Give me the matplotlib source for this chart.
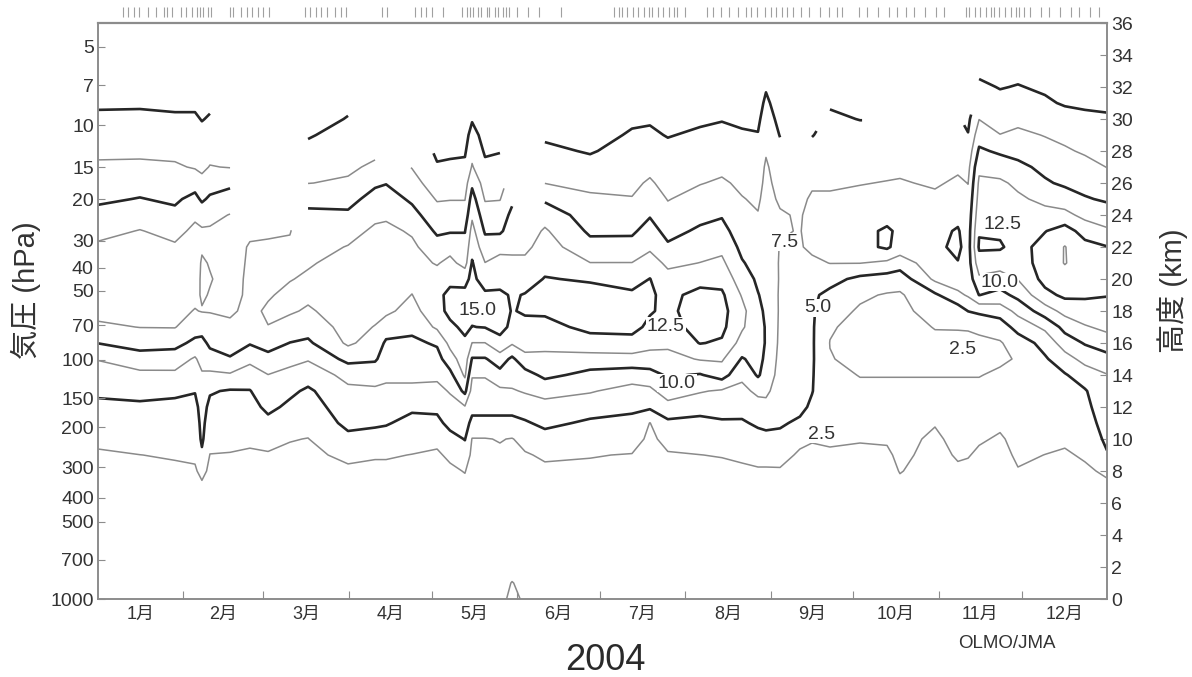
import numpy as np
import matplotlib
matplotlib.use("Agg")
import matplotlib.pyplot as plt
from matplotlib.transforms import blended_transform_factory

plt.rcParams['font.family'] = ['Liberation Sans', 'Noto Sans CJK JP']

nan = np.nan

# ozone partial pressure (mPa), one profile per sounding column
heights_km = [0, 1, 2, 4, 6, 7, 8, 9, 10, 11, 12, 13, 14, 15, 16, 17, 18, 19, 20, 21,
              22, 23, 24, 25, 26, 27, 28, 29, 30, 31, 32, 33, 34, 35, 36]

sonde_days = [0, 15.2, 27.9, 35.2, 37.7, 40.6, 47.9, 55.1, 61.7, 69.6, 76.2, 90.7,
              100.5, 104.5, 113.9, 123.0, 127.7, 133.1, 135.7, 140.4, 145.8, 150.2,
              154.9, 162.1, 178.5, 193.7, 200.2, 206.7, 218.4, 226.3, 233.6, 239.4,
              242.3, 247.4, 254.6, 259.0, 265.5, 276.4, 286.2, 290.9, 303.6, 311.9,
              315.6, 319.6, 327.2, 333.7, 343.5, 350.7, 358.0, 366.0]

p000 = [1.2, 1.1, 1.0, 0.9, 1.0,
        1.3, 1.5, 2.2, 3.0, 3.6, 4.5, 5.4, 6.5, 7.6, 10.05,
        12.1, 13.2, 13.4, 13.5, 13.4, 12.9, 11.8, 10.7, 9.6, 8.7,
        7.9, 7.0, 6.2, 5.4, 4.7, 4.2, 3.8, 3.4, 3.1, 2.8]
p015 = [1.2, 1.1, 1.0, 0.9, 1.0,
        1.4, 1.9, 2.48, 3.5, 4.0, 4.6, 5.7, 6.9, 8.9, 11.0,
        12.55, 13.2, 13.5, 13.6, 13.5, 13.2, 12.6, 11.4, 10.1, 9.1,
        7.9, 7.1, 6.3, 5.5, 4.7, 4.2, 3.8, 3.4, 3.1, 2.8]
p028 = [1.2, 1.1, 1.0, 0.9, 1.0,
        1.6, 2.1, 2.7, 3.3, 3.9, 4.5, 5.4, 7.0, 8.7, 10.8,
        12.6, 13.1, 13.3, 13.4, 13.2, 12.8, 11.8, 10.6, 9.6, 8.7,
        7.8, 6.9, 6.1, 5.3, 4.6, 4.1, 3.7, 3.4, 3.1, 2.8]
p035 = [1.2, 1.1, 1.0, 0.9, 1.0,
        1.7, 2.2, 2.9, 3.4, 3.9, 4.4, 5.1, 6.2, 7.2, 9.4,
        11.2, 12.4, 13.0, 13.3, 13.4, 13.3, 13.0, 12.1, 10.7, 9.0,
        7.3, 6.7, 6.0, 5.3, 4.6, 4.1, 3.7, 3.4, 3.1, 2.8]
p038 = [1.2, 1.1, 1.0, 0.9, 1.0,
        2.0, 3.2, 4.6, 5.4, 5.6, 5.8, 6.4, 7.2, 8.4, 9.3,
        11.0, 12.6, 12.3, 12.2, 12.3, 12.7, 12.8, 11.5, 9.6, 8.2,
        7.0, 6.3, 5.6, 4.9, 4.4, 4.0, 3.7, 3.4, 3.1, 2.8]
p041 = [1.2, 1.1, 1.0, 0.9, 1.0,
        1.6, 2.0, 2.45, 3.2, 3.9, 4.5, 5.2, 7.0, 9.0, 10.5,
        11.7, 12.6, 12.6, 12.4, 12.6, 13.0, 12.8, 11.8, 10.4, 8.9,
        7.6, 6.8, 6.1, 5.2, 4.6, 4.1, 3.7, 3.4, 3.1, 2.8]
p048 = [1.2, 1.1, 1.0, 0.9, 1.0,
        1.6, 2.0, 2.4, 3.0, 3.5, 4.0, 4.8, 7.2, 9.8, 11.0,
        12.1, 12.8, 13.0, 13.1, 13.1, 13.0, 12.9, 12.6, 11.0, 9.5,
        7.4, nan, nan, nan, nan, nan, nan, nan, nan, nan]
p055 = [1.2, 1.1, 1.0, 0.9, 1.0,
        1.5, 1.9, 2.2, 2.9, 3.5, 4.1, 4.9, 6.3, 8.1, 10.2,
        11.4, 12.0, 12.2, 12.2, 12.3, 12.4, 12.7, nan, nan, nan,
        nan, nan, nan, nan, nan, nan, nan, nan, nan, nan]
p062 = [1.2, 1.1, 1.0, 0.9, 1.0,
        1.5, 1.9, 2.3, 3.2, 4.3, 5.6, 6.5, 7.45, 9.2, 11.0,
        12.45, 12.8, 12.3, 12.1, 12.1, 12.3, 12.7, nan, nan, nan,
        nan, nan, nan, nan, nan, nan, nan, nan, nan, nan]
p070 = [1.2, 1.1, 1.0, 0.9, 1.0,
        1.4, 1.7, 2.1, 2.6, 3.6, 4.5, 5.5, 6.8, 8.2, 9.95,
        11.5, 12.8, 13.0, 12.4, 12.1, 12.2, 12.6, nan, nan, nan,
        nan, nan, nan, nan, nan, nan, nan, nan, nan, nan]
p076 = [1.2, 1.1, 1.0, 0.9, 1.0,
        1.3, 1.6, 2.0, 2.45, 3.2, 3.9, 4.6, 6.1, 7.7, 9.6,
        11.0, 12.2, 13.0, 12.8, 12.3, 11.7, 11.1, 10.5, 9.3, 7.45,
        6.5, 5.6, 4.8, 4.2, 3.8, nan, nan, nan, nan, nan]
p091 = [1.2, 1.1, 1.0, 0.9, 1.0,
        1.5, 2.1, 3.0, 4.4, 5.6, 6.3, 7.0, 8.2, 10.7, 12.9,
        13.4, 13.7, 13.8, 13.6, 13.2, 12.6, 11.7, 10.4, 9.2, 7.8,
        7.1, 6.5, 5.8, 5.1, 4.6, nan, nan, nan, nan, nan]
p100 = [1.2, 1.1, 1.0, 0.9, 1.0,
        1.5, 2.0, 2.7, 4.0, 5.4, 6.3, 7.1, 8.5, 10.3, 11.5,
        12.4, 13.2, 13.6, 13.8, 13.7, 13.4, 12.9, 12.0, 10.9, 9.6,
        7.9, 7.0, nan, nan, nan, nan, nan, nan, nan, nan]
p104 = [1.2, 1.1, 1.0, 0.9, 1.0,
        1.5, 2.0, 2.7, 4.0, 5.2, 6.0, 7.0, 8.0, 8.9, 9.6,
        11.3, 13.0, 13.7, 14.0, 13.9, 13.6, 13.1, 12.1, 11.1, 9.9,
        nan, nan, nan, nan, nan, nan, nan, nan, nan, nan]
p114 = [1.2, 1.1, 1.0, 0.9, 1.0,
        1.6, 2.1, 2.45, 3.4, 4.3, 5.4, 7.0, 8.0, 8.8, 9.5,
        10.6, 11.6, 12.45, 13.2, 13.4, 13.0, 12.2, 10.8, 9.6, 8.4,
        7.4, nan, nan, nan, nan, nan, nan, nan, nan, nan]
p123 = [1.2, 1.1, 1.0, 0.9, 1.0,
        1.5, 1.9, 2.2, 3.0, 4.3, 5.6, 6.8, 8.0, 9.1, 10.3,
        12.9, 14.2, 14.5, 13.6, 12.3, 11.0, 9.6, 8.5, 7.3, 6.2,
        5.2, 4.6, nan, nan, nan, nan, nan, nan, nan, nan]
p128 = [1.2, 1.1, 1.0, 0.9, 1.0,
        1.6, 2.1, 2.9, 4.1, 5.8, 6.6, 7.7, 9.3, 11.4, 13.2,
        14.5, 15.6, 15.5, 14.5, 13.2, 11.6, 9.8, 8.6, 7.4, 6.4,
        5.4, 4.6, nan, nan, nan, nan, nan, nan, nan, nan]
p133 = [1.2, 1.1, 1.0, 0.9, 1.0,
        1.9, 2.6, 3.8, 5.1, 6.1, 7.3, 10.6, 12.9, 13.9, 14.6,
        15.5, 15.8, 15.6, 14.3, 11.6, 10.8, 9.9, 8.6, 7.4, 6.4,
        5.5, 4.7, 4.2, 3.9, nan, nan, nan, nan, nan, nan]
p136 = [1.2, 1.1, 1.0, 0.9, 1.0,
        1.3, 1.6, 2.0, 2.4, 4.3, 5.8, 6.6, 7.7, 9.8, 12.45,
        14.95, 15.6, 15.8, 15.6, 15.2, 14.2, 13.3, 12.1, 11.0, 9.5,
        7.7, 6.8, 5.8, 4.8, 4.3, nan, nan, nan, nan, nan]
p140 = [1.2, 1.1, 1.0, 0.9, 1.0,
        1.3, 1.6, 2.0, 2.4, 4.3, 5.8, 6.6, 7.7, 9.8, 12.45,
        15.1, 15.6, 15.4, 13.9, 12.55, 11.1, 9.7, 8.6, 7.3, 6.4,
        5.5, 4.7, 4.2, 3.9, nan, nan, nan, nan, nan, nan]
p146 = [1.9, 1.6, 1.2, 0.9, 1.0,
        1.4, 1.7, 2.2, 2.6, 4.3, 5.8, 7.0, 9.2, 11.2, 14.4,
        15.6, 15.8, 15.4, 14.2, 13.3, 11.8, 9.6, 8.6, 7.4, 6.5,
        5.7, 4.9, nan, nan, nan, nan, nan, nan, nan, nan]
p150 = [3.0, 2.6, 1.5, 1.0, 1.0,
        1.3, 1.6, 2.0, 2.4, 4.3, 5.8, 7.3, 8.5, 9.5, 12.8,
        14.6, 14.9, 14.8, 14.0, 13.0, 12.0, 11.2, 10.6, 9.5, nan,
        nan, nan, nan, nan, nan, nan, nan, nan, nan, nan]
p155 = [2.2, 1.8, 1.3, 1.0, 1.0,
        1.5, 1.9, 2.3, 3.2, 4.7, 6.3, 7.7, 9.0, 11.7, 13.6,
        14.5, 15.2, 15.1, 14.2, 13.1, 11.9, 11.2, nan, nan, nan,
        nan, nan, nan, nan, nan, nan, nan, nan, nan, nan]
p162 = [1.2, 1.1, 1.0, 0.9, 1.0,
        1.6, 2.1, 2.8, 4.0, 5.6, 6.8, 8.2, 10.6, 11.8, 13.3,
        14.4, 15.3, 15.5, 15.1, 14.4, 13.6, 12.8, 11.5, 9.6, 7.45,
        6.6, 5.5, 4.6, 4.1, nan, nan, nan, nan, nan, nan]
p178 = [1.2, 1.1, 1.0, 0.9, 1.0,
        1.6, 2.1, 2.6, 3.8, 4.6, 6.1, 7.7, 9.3, 11.4, 14.2,
        15.5, 15.9, 15.7, 14.8, 12.55, 10.8, 9.6, 8.8, 7.9, 6.9,
        5.8, 4.8, 4.3, 3.9, 3.6, nan, nan, nan, nan, nan]
p194 = [1.2, 1.1, 1.0, 0.9, 1.0,
        1.5, 2.0, 2.4, 3.5, 4.3, 5.5, 6.6, 8.7, 11.6, 14.2,
        15.7, 15.9, 15.4, 14.1, 12.55, 10.9, 9.6, 8.7, 7.6, 7.0,
        6.5, 5.9, 5.2, 4.7, nan, nan, nan, nan, nan, nan]
p200 = [1.2, 1.1, 1.0, 0.9, 1.0,
        1.2, 1.4, 1.7, 2.0, 2.45, 5.4, 6.9, 9.1, 11.5, 13.3,
        14.5, 15.2, 15.3, 15.05, 13.8, 12.0, 11.0, 9.8, 8.8, 7.8,
        6.9, 6.0, 5.3, 4.8, nan, nan, nan, nan, nan, nan]
p207 = [1.2, 1.1, 1.0, 0.9, 1.0,
        1.5, 1.9, 2.3, 3.2, 4.5, 6.6, 8.8, 10.3, 11.6, 13.1,
        14.0, 14.5, 14.4, 13.5, 11.9, 10.4, 9.2, 8.2, 7.4, 6.7,
        6.1, 5.5, 4.9, 4.5, nan, nan, nan, nan, nan, nan]
p218 = [1.2, 1.1, 1.0, 0.9, 1.0,
        1.5, 2.0, 2.48, 3.4, 4.3, 5.9, 7.7, 9.8, 12.7, 15.1,
        16.0, 16.1, 15.7, 14.2, 12.55, 11.3, 10.4, 9.3, 8.3, 7.4,
        6.7, 6.0, 5.3, 4.7, 4.3, nan, nan, nan, nan, nan]
p226 = [1.2, 1.1, 1.0, 0.9, 1.0,
        1.5, 2.0, 2.6, 3.5, 4.7, 6.0, 7.2, 11.1, 12.8, 14.7,
        15.6, 15.8, 15.4, 14.2, 13.0, 11.9, 10.8, 9.8, 8.8, 7.8,
        7.0, 6.3, 5.5, 4.9, 4.4, nan, nan, nan, nan, nan]
p234 = [1.2, 1.1, 1.0, 0.9, 1.0,
        1.6, 2.2, 2.8, 3.8, 4.7, 5.9, 6.9, 8.0, 9.8, 11.6,
        12.8, 13.2, 12.3, 11.2, 10.2, 9.4, 8.7, 8.1, 7.6, 7.1,
        6.6, 6.0, 5.2, 4.7, 4.3, nan, nan, nan, nan, nan]
p239 = [1.2, 1.1, 1.0, 0.9, 1.0,
        1.7, 2.3, 3.1, 4.1, 5.4, 6.6, 8.0, 10.3, 10.8, 11.1,
        11.0, 10.6, 10.1, 9.6, 9.1, 8.6, 8.1, 7.6, 7.2, 6.8,
        6.4, 5.8, 5.1, 4.6, 4.2, 3.8, nan, nan, nan, nan]
p242 = [1.2, 1.1, 1.0, 0.9, 1.0,
        1.7, 2.3, 3.1, 4.3, 5.6, 6.8, 8.0, 9.0, 9.5, 9.8,
        9.8, 9.6, 9.4, 9.2, 9.0, 8.8, 8.6, 8.4, 8.2, 8.0,
        7.8, 7.3, 6.7, 6.0, 5.4, 4.8, 4.3, nan, nan, nan]
p247 = [1.2, 1.1, 1.0, 0.9, 1.0,
        1.7, 2.3, 3.2, 4.4, 5.3, 5.8, 6.3, 6.6, 6.8, 7.0,
        7.1, 7.2, 7.2, 7.3, 7.3, 7.4, 7.7, 7.7, 7.2, 6.8,
        6.3, 5.6, 4.9, 4.4, 4.0, 3.7, nan, nan, nan, nan]
p255 = [1.2, 1.1, 1.0, 0.9, 1.0,
        1.4, 1.8, 2.2, 3.0, 4.6, 5.6, 6.0, 6.3, 6.5, 6.6,
        6.6, 6.7, 6.8, 6.9, 7.0, 7.3, 7.4, 7.3, 7.0, nan,
        nan, nan, nan, nan, nan, nan, nan, nan, nan, nan]
p259 = [1.2, 1.1, 1.0, 0.9, 1.0,
        1.4, 1.8, 2.2, 2.6, 3.6, 4.6, 5.1, 5.2, 5.3, 5.3,
        5.3, 5.3, 5.4, 5.6, 7.0, 8.0, 8.3, 8.2, 7.8, 7.2,
        6.5, 5.7, 4.9, nan, nan, nan, nan, nan, nan, nan]
p266 = [1.2, 1.1, 1.0, 0.9, 1.0,
        1.3, 1.7, 2.2, 2.8, 3.2, 3.3, 3.1, 2.9, 2.6, 2.45,
        2.7, 3.5, 4.4, 5.8, 7.55, 8.3, 8.5, 8.3, 7.8, 7.2,
        6.7, 6.3, 5.8, 5.3, 4.8, nan, nan, nan, nan, nan]
p276 = [1.2, 1.1, 1.0, 0.9, 1.0,
        1.3, 1.7, 2.2, 2.6, 3.0, 3.1, 2.8, 2.45, 2.0, 1.8,
        1.9, 2.2, 2.9, 4.4, 7.55, 9.2, 9.4, 8.8, 8.1, 7.4,
        6.8, 6.2, 5.6, 4.95, 4.5, nan, nan, nan, nan, nan]
p286 = [1.2, 1.1, 1.0, 0.9, 1.0,
        1.3, 1.7, 2.2, 2.7, 3.0, 3.0, 2.8, 2.45, 2.0, 1.7,
        1.7, 1.9, 2.3, 3.9, 7.0, 10.4, 10.3, 9.3, 8.4, 7.6,
        6.9, 6.2, 5.6, nan, nan, nan, nan, nan, nan, nan]
p291 = [1.2, 1.1, 1.0, 0.9, 1.0,
        2.0, 2.6, 2.9, 3.0, 3.1, 3.0, 2.8, 2.45, 2.0, 1.7,
        1.6, 1.8, 2.2, 3.6, 6.2, 8.9, 9.6, 9.3, 8.6, 7.7,
        7.0, 6.3, 5.6, nan, nan, nan, nan, nan, nan, nan]
p304 = [1.2, 1.1, 1.0, 0.9, 1.0,
        1.3, 1.6, 1.9, 2.2, 2.6, 2.9, 2.8, 2.45, 2.2, 2.0,
        2.6, 3.6, 4.6, 8.0, 9.0, 9.5, 9.4, 8.8, 8.0, 7.2,
        6.6, 6.0, 5.4, nan, nan, nan, nan, nan, nan, nan]
p312 = [1.2, 1.1, 1.0, 0.9, 1.0,
        1.9, 2.2, 2.7, 3.0, 3.1, 3.0, 2.8, 2.45, 2.2, 2.1,
        2.6, 3.7, 6.9, 9.0, 9.9, 10.5, 10.2, 9.4, 8.6, 7.9,
        7.1, 6.4, 5.8, nan, nan, nan, nan, nan, nan, nan]
p316 = [1.2, 1.1, 1.0, 0.9, 1.0,
        1.7, 2.1, 2.6, 3.0, 3.1, 3.0, 2.8, 2.45, 2.3, 2.2,
        2.6, 5.05, 7.8, 8.6, 8.9, 9.0, 8.9, 8.6, 8.1, 7.45,
        6.8, 6.0, 5.1, 4.5, nan, nan, nan, nan, nan, nan]
p320 = [1.2, 1.1, 1.0, 0.9, 1.0,
        1.4, 1.8, 2.2, 2.7, 3.0, 3.0, 2.8, 2.45, 2.2, 2.1,
        2.9, 5.5, 10.05, 12.0, 14.0, 15.3, 14.8, 14.0, 13.4, 12.9,
        12.0, 10.4, 8.9, 7.45, 6.3, 5.4, 4.6, 4.1, nan, nan]
p327 = [1.2, 1.1, 1.0, 0.9, 1.0,
        1.3, 1.6, 1.9, 2.3, 2.8, 3.0, 2.9, 2.7, 2.3, 2.3,
        3.6, 6.2, 9.2, 11.4, 13.6, 15.3, 14.6, 14.0, 13.5, 12.9,
        11.4, 9.6, 7.55, 6.6, 5.6, 4.9, 4.4, 4.0, nan, nan]
p334 = [1.2, 1.1, 1.0, 0.9, 1.0,
        1.9, 2.4, 2.8, 3.0, 3.1, 3.1, 3.0, 2.8, 2.6, 3.6,
        6.0, 8.2, 10.7, 12.6, 13.6, 14.0, 13.9, 13.5, 12.9, 12.0,
        10.6, 9.2, 8.0, 6.9, 5.9, 5.1, 4.5, 4.1, 3.8, nan]
p343 = [1.2, 1.1, 1.0, 0.9, 1.0,
        1.7, 2.1, 2.48, 3.0, 3.3, 3.6, 3.9, 4.3, 4.7, 5.9,
        8.0, 11.3, 14.3, 15.8, 16.2, 16.0, 14.9, 13.3, 11.9, 10.3,
        9.4, 8.3, 7.4, 6.5, 5.3, 4.7, 4.3, 3.9, 3.6, 3.4]
p351 = [1.2, 1.1, 1.0, 0.9, 1.0,
        1.5, 1.9, 2.2, 2.9, 3.4, 3.9, 4.4, 4.8, 6.5, 8.7,
        10.8, 13.3, 15.5, 16.6, 17.6, 17.6, 16.1, 13.2, 11.2, 9.6,
        8.7, 7.8, 6.9, 5.8, 4.8, 4.3, 3.9, 3.6, 3.4, 3.2]
p358 = [1.2, 1.1, 1.0, 0.9, 1.0,
        1.7, 2.1, 2.8, 3.3, 3.9, 4.4, 4.8, 6.2, 8.3, 10.2,
        12.3, 13.8, 15.4, 16.2, 16.5, 15.8, 14.0, 11.8, 10.2, 9.2,
        8.3, 7.2, 6.3, 5.4, 4.7, 4.2, 3.9, 3.6, 3.4, 3.2]
p366 = [1.2, 1.1, 1.0, 0.9, 1.0,
        2.0, 2.9, 4.8, 5.5, 6.0, 6.4, 6.8, 7.4, 9.0, 11.5,
        13.0, 14.1, 15.1, 15.7, 15.8, 15.1, 12.9, 11.1, 9.7, 8.4,
        7.45, 6.7, 5.8, 5.2, 4.7, 4.3, 4.0, 3.7, 3.4, 3.2]

profiles = [p000, p015, p028, p035, p038, p041, p048, p055, p062, p070, p076, p091,
            p100, p104, p114, p123, p128, p133, p136, p140, p146, p150, p155, p162,
            p178, p194, p200, p207, p218, p226, p234, p239, p242, p247, p255, p259,
            p266, p276, p286, p291, p304, p312, p316, p320, p327, p334, p343, p351,
            p358, p366]

# sounding dates marked along the top (day of year)
obs_days = [9, 11, 13, 15, 18, 21, 24, 25, 27, 30, 32, 34, 36, 37, 38, 40, 41, 48, 49,
            52, 54, 56, 58, 60, 62, 75, 77, 79, 81, 83, 86, 88, 90, 103, 105, 115, 117,
            119, 121, 125, 132, 134, 135, 136, 138, 139, 141, 142, 144, 145, 147, 148,
            149, 152, 156, 160, 168, 187, 189, 190, 192, 194, 196, 198, 200, 201, 203,
            205, 207, 209, 210, 213, 221, 223, 226, 229, 232, 235, 237, 239, 242, 244,
            246, 248, 250, 252, 255, 258, 262, 265, 268, 270, 276, 279, 283, 287, 290,
            293, 296, 300, 304, 307, 315, 316, 318, 320, 322, 324, 325, 327, 329, 331,
            333, 334, 336, 338, 342, 345, 349, 353, 356, 360, 363]

month_edges = [0, 31, 60, 91, 121, 152, 182, 213, 244, 274, 305, 335, 366]
month_labels = ['1月', '2月', '3月', '4月', '5月', '6月', '7月', '8月', '9月',
                '10月', '11月', '12月']

pressure_labels = ['5', '7', '10', '15', '20', '30', '40', '50', '70', '100', '150',
                   '200', '300', '400', '500', '700', '1000']
pressure_km = [34.52, 32.12, 29.62, 27.0, 25.0, 22.39, 20.69, 19.27, 17.12, 14.94,
               12.56, 10.75, 8.25, 6.33, 4.83, 2.44, 0.0]

label_text = ['15.0', '12.5', '10.0', '7.5', '5.0', '2.5', '2.5', '12.5', '10.0']
label_day = [137.5, 206.0, 210.0, 249.0, 261.0, 262.6, 313.7, 328.0, 327.0]
label_km = [18.06, 17.06, 13.5, 22.3, 18.2, 10.3, 15.6, 23.4, 19.8]

days = np.array(sonde_days)
h = np.array(heights_km)
ozone = np.ma.masked_invalid(np.array(profiles, dtype=float).T)

txt = '#333333'
grey = '#8c8c8c'

fig = plt.figure(figsize=(11.92, 6.77), dpi=100)
ax = fig.add_axes([0.0822, 0.1152, 0.8465, 0.8508])
axp = ax.twinx()   # carries the pressure scale on the left

ax.contour(days, h, ozone, levels=[2.5, 7.5, 12.5, 17.5], colors='#8a8a8a',
           linewidths=1.1)
ax.contour(days, h, ozone, levels=[5.0, 10.0, 15.0], colors='#262626',
           linewidths=1.9)

for t, d, k in zip(label_text, label_day, label_km):
    ax.text(d, k, t, ha='center', va='center', fontsize=14, color=txt,
            bbox=dict(facecolor='white', edgecolor='none', pad=0.6))

ax.set_xlim(0, 366)
ax.set_ylim(0, 36)

# months: boundaries as ticks, names centred in each month
ax.set_xticks(month_edges[1:-1])
ax.set_xticklabels([])
mids = [(a + b) / 2 for a, b in zip(month_edges[:-1], month_edges[1:])]
ax.set_xticks(mids, minor=True)
ax.set_xticklabels(month_labels, minor=True, fontsize=13, color=txt)
ax.tick_params(axis='x', which='major', direction='in', length=6, color=grey)
ax.tick_params(axis='x', which='minor', length=0, pad=5)

# height on the right
ax.yaxis.tick_right()
ax.yaxis.set_label_position('right')
ax.set_yticks(range(0, 37, 2))
ax.tick_params(axis='y', which='both', left=False, labelleft=False, right=True,
               labelright=True, direction='in', length=5, color=grey, labelsize=14,
               labelcolor=txt, pad=3)
ax.set_ylabel('高度 (km)', fontsize=21, color=txt, rotation=90)
ax.yaxis.set_label_coords(1.05, 0.536)

# pressure on the left
axp.set_ylim(0, 36)
axp.yaxis.tick_left()
axp.yaxis.set_label_position('left')
axp.set_yticks(pressure_km)
axp.set_yticklabels(pressure_labels)
axp.tick_params(axis='y', which='both', right=False, labelright=False, left=True,
                labelleft=True, direction='in', length=5, color=grey, labelsize=14,
                labelcolor=txt, pad=3)
axp.set_ylabel('気圧 (hPa)', fontsize=21, color=txt)
axp.yaxis.set_label_coords(-0.056, 0.536)

for a in (ax, axp):
    for s in a.spines.values():
        s.set_color('#8c8c8c')
        s.set_linewidth(1.2)
ax.spines['top'].set_linewidth(1.6)

# sounding dates along the top edge
trans = blended_transform_factory(ax.transData, ax.transAxes)
ax.vlines(obs_days, 1.010, 1.027, transform=trans, colors='#a0a0a0',
          linewidth=0.8, clip_on=False)

fig.text(0.5075, 0.025, '2004', fontsize=26, ha='center', va='center', color='#2a2a2a')
fig.text(0.845, 0.050, 'OLMO/JMA', fontsize=13.5, ha='center', va='center', color=txt)

fig.savefig('out.png', dpi=100)
